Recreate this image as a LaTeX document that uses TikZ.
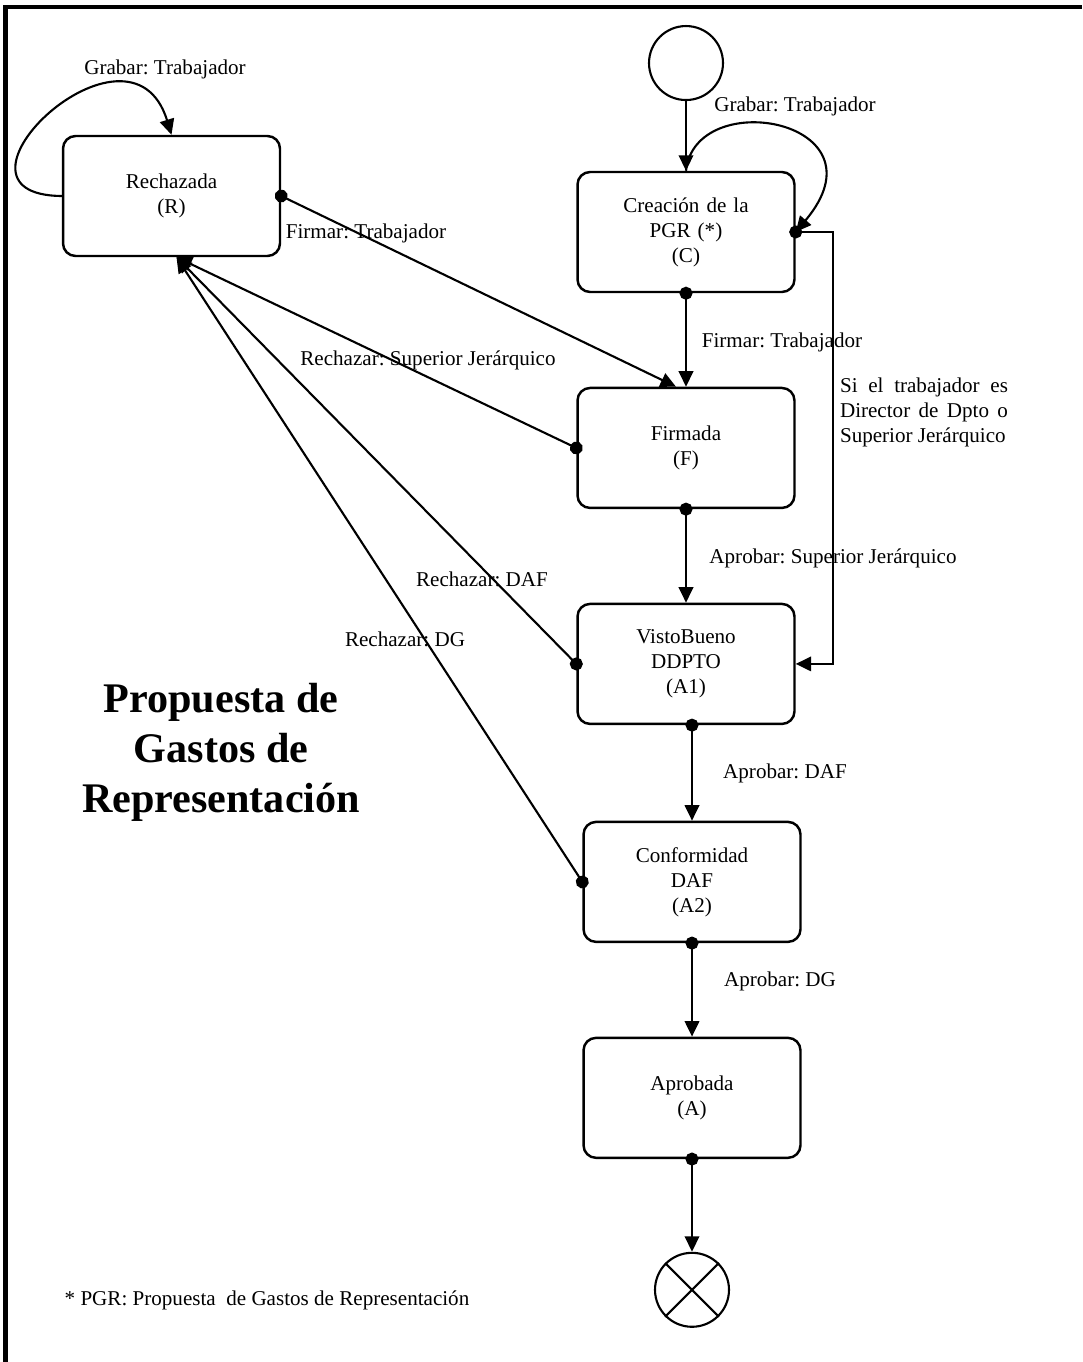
\documentclass[tikz,border=0pt]{standalone}
\usepackage{fontspec}
\setmainfont{Liberation Serif}
\frenchspacing
\usetikzlibrary{arrows.meta,positioning}
\tikzstyle{state} = [rectangle, draw, line width=1.4pt, rounded corners=0.25cm,
    text width=4cm, align=center, minimum width=4.34cm, minimum height=2.4cm]
\tikzstyle{pseudo} = [circle, draw, line width=1.2pt, minimum size=1.48cm, inner sep=0pt]
\tikzstyle{line} = [draw, line width=1.2pt, -{Triangle[length=0.31cm,width=0.29cm]}]
\tikzstyle{dotline} = [line, {Circle[length=0.26cm]}-{Triangle[length=0.31cm,width=0.29cm]},
    shorten <=-0.13cm]

\begin{document}
\begin{tikzpicture}[x=0.02cm, y=-0.02cm, node distance=4.32cm,
    font=\fontsize{12}{14.2}\selectfont]
\useasboundingbox (0,0) rectangle (1082,1362);
    % Frame
    \draw [line width=2.5pt] (5.5,1362) |- (1082,7);

    % Place nodes
    \node [state] (cre) at (686,232) {Creación de la\\PGR (*)\\(C)};
    \node [pseudo, above of=cre, node distance=3.38cm] (ini) {};
    \node [state, below of=cre] (fir) {Firmada\\(F)};
    \node [state, below of=fir] (vb) {VistoBueno\\DDPTO\\(A1)};
    \node [state, below of=vb, node distance=4.36cm, xshift=0.12cm] (conf) {Conformidad\\DAF\\(A2)};
    \node [state, below of=conf] (apr) {Aprobada\\(A)};
    \node [pseudo, below of=apr, node distance=3.84cm] (fin) {};
    \node [state] (rech) at (171.5,196) {Rechazada\\(R)};
    \coordinate (rin) at ([xshift=0.1cm]rech.south);

    % Labels
    \node (grab1) at (165,69) {Grabar: Trabajador};
    \node (grab2) at (795,106) {Grabar: Trabajador};
    \node (firm1) at (366,233) {Firmar: Trabajador};
    \node (firm2) at (782,342) {Firmar: Trabajador};
    \node [text width=3.36cm, align=justify] (cond) at (924,412)
        {\hyphenpenalty=10000\tolerance=9999 Si el trabajador es Director de Dpto o Superior Jerárquico};
    \node (apsup) at (833,558) {Aprobar: Superior Jerárquico};
    \node (resup) at (428,360) {Rechazar: Superior Jerárquico};
    \node (redaf) at (482,579) {Rechazar: DAF};
    \node (redg) at (405,639) {Rechazar: DG};
    \node (apdaf) at (785,773) {Aprobar: DAF};
    \node (apdg) at (780,981) {Aprobar: DG};
    \node [font=\fontsize{24}{28.5}\selectfont\bfseries, align=center] (title) at (221,752)
        {Propuesta de\\Gastos de\\Representación};
    \node (note) at (267,1300) {* PGR: Propuesta\ \ de Gastos de Representación};

    % Draw edges
    \path [line] (ini) -- (cre);
    \path [line] (cre.north) .. controls (695,85) and (890,120) .. (cre.east);
    \path [line] (rech.west) .. controls (-75,195) and (130,0) .. (rech.north);
    \path [dotline] (cre) -- (fir);
    \path [dotline] (cre.east) -- ++(37,0) |- (vb.east);
    \path [dotline] (rech.east) -- ([xshift=-0.2cm]fir.north);
    \path [dotline] (fir.west) -- (rin);
    \path [dotline] (vb.west) -- (rin);
    \path [dotline] (conf.west) -- (rin);
    \path [dotline] (fir) -- (vb);
    \path [dotline] (vb.south -| conf) -- (conf);
    \path [dotline] (conf) -- (apr);
    \path [dotline] (apr) -- (fin);
    \draw [line width=1.2pt] (fin.45) -- (fin.225) (fin.135) -- (fin.315);

\end{tikzpicture}
\end{document}
